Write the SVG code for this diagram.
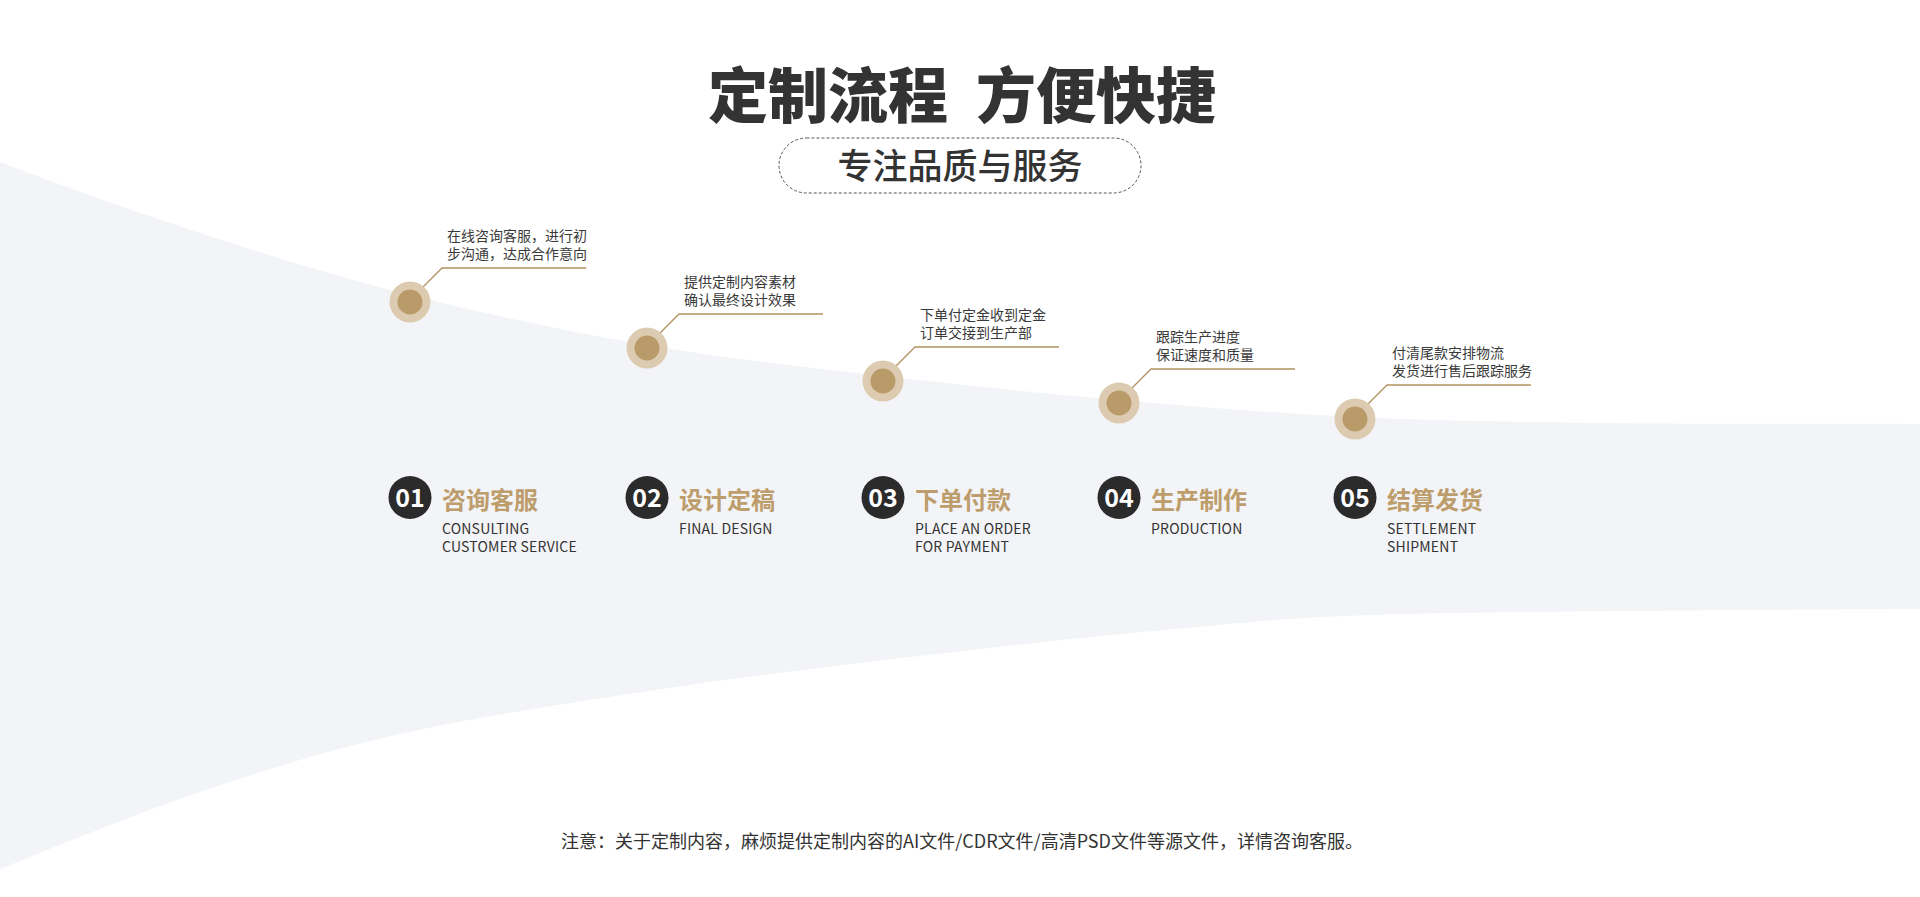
<svg xmlns="http://www.w3.org/2000/svg" width="1920" height="897" viewBox="0 0 1920 897">
<style>
text{font-family:"Noto Sans CJK SC","Noto Sans",sans-serif;}
.title{font-size:60px;font-weight:900;fill:#333;}
.sub{font-size:35px;font-weight:500;fill:#333;}
.desc{font-size:14px;fill:#3a3a3a;}
.halo{fill:#dccbb0;}
.dot{fill:#b99a69;}
.badge{fill:#2b2b2b;}
.num{font-size:25px;font-weight:700;fill:#fff;text-anchor:middle;}
.name{font-size:24px;font-weight:700;fill:#bd9d6b;}
.en{font-size:14px;fill:#333;letter-spacing:0.2px;}
.lead{fill:none;stroke:#b39261;stroke-width:1.3;}
.note{font-size:18px;fill:#333;text-anchor:middle;}
</style>
<rect width="1920" height="897" fill="#ffffff"/>
<path id="band" fill="#f3f4f7" d="M0,162 C66.7,187.3 131.7,210.8 200,233 C268.3,255.2 335.5,276.3 410,295 C484.5,313.7 568.2,331.5 647,345 C725.8,358.5 804.3,366.8 883,376 C961.7,385.2 1040.3,393.2 1119,400 C1197.7,406.8 1274.8,413.2 1355,417 C1435.2,420.8 1505.8,421.8 1600,423 C1694.2,424.2 1813.3,423.7 1920,424 L1920,609 C1746.7,609.7 1525.8,611.2 1400,614 C1274.2,617.8 1246.7,622.8 1165,630 C1083.3,637.2 995,647 910,657 C825,667 740,677.2 655,690 C570,702.8 475.8,717 400,734 C324.2,751 266.7,769.5 200,792 C133.3,814.5 66.7,842.3 0,869 Z"/>
<g id="header">
<text class="title" x="708" y="118">定制流程</text>
<text class="title" x="976" y="118">方便快捷</text>
<rect x="779" y="138" width="362" height="55" rx="27.5" fill="none" stroke="#555" stroke-width="1" stroke-dasharray="3 2"/>
<text class="sub" x="960" y="179" text-anchor="middle">专注品质与服务</text>
</g>
<g id="connectors">
<polyline class="lead" points="418,292 442,268 586,268"/>
<polyline class="lead" points="655,338 679,314 823,314"/>
<polyline class="lead" points="891,371 915,347 1059,347"/>
<polyline class="lead" points="1127,393 1151,369 1295,369"/>
<polyline class="lead" points="1363,409 1387,385 1531,385"/>
</g>
<g id="step1">
<circle class="halo" cx="410" cy="302" r="20.5"/><circle class="dot" cx="410" cy="302" r="12.5"/>
<text class="desc" x="447" y="241">在线咨询客服，进行初</text>
<text class="desc" x="447" y="258.5">步沟通，达成合作意向</text>
<circle class="badge" cx="410" cy="497.5" r="21.5"/>
<text class="num" x="410" y="506.5">01</text>
<text class="name" x="442" y="509">咨询客服</text>
<text class="en" x="442" y="534">CONSULTING</text>
<text class="en" x="442" y="552">CUSTOMER SERVICE</text>
</g>
<g id="step2">
<circle class="halo" cx="647" cy="348" r="20.5"/><circle class="dot" cx="647" cy="348" r="12.5"/>
<text class="desc" x="684" y="287">提供定制内容素材</text>
<text class="desc" x="684" y="304.5">确认最终设计效果</text>
<circle class="badge" cx="647" cy="497.5" r="21.5"/>
<text class="num" x="647" y="506.5">02</text>
<text class="name" x="679" y="509">设计定稿</text>
<text class="en" x="679" y="534">FINAL DESIGN</text>
</g>
<g id="step3">
<circle class="halo" cx="883" cy="381" r="20.5"/><circle class="dot" cx="883" cy="381" r="12.5"/>
<text class="desc" x="920" y="320">下单付定金收到定金</text>
<text class="desc" x="920" y="337.5">订单交接到生产部</text>
<circle class="badge" cx="883" cy="497.5" r="21.5"/>
<text class="num" x="883" y="506.5">03</text>
<text class="name" x="915" y="509">下单付款</text>
<text class="en" x="915" y="534">PLACE AN ORDER</text>
<text class="en" x="915" y="552">FOR PAYMENT</text>
</g>
<g id="step4">
<circle class="halo" cx="1119" cy="403" r="20.5"/><circle class="dot" cx="1119" cy="403" r="12.5"/>
<text class="desc" x="1156" y="342">跟踪生产进度</text>
<text class="desc" x="1156" y="359.5">保证速度和质量</text>
<circle class="badge" cx="1119" cy="497.5" r="21.5"/>
<text class="num" x="1119" y="506.5">04</text>
<text class="name" x="1151" y="509">生产制作</text>
<text class="en" x="1151" y="534">PRODUCTION</text>
</g>
<g id="step5">
<circle class="halo" cx="1355" cy="419" r="20.5"/><circle class="dot" cx="1355" cy="419" r="12.5"/>
<text class="desc" x="1392" y="358">付清尾款安排物流</text>
<text class="desc" x="1392" y="375.5">发货进行售后跟踪服务</text>
<circle class="badge" cx="1355" cy="497.5" r="21.5"/>
<text class="num" x="1355" y="506.5">05</text>
<text class="name" x="1387" y="509">结算发货</text>
<text class="en" x="1387" y="534">SETTLEMENT</text>
<text class="en" x="1387" y="552">SHIPMENT</text>
</g>
<g id="footnote">
<text class="note" x="962" y="848">注意：关于定制内容，麻烦提供定制内容的AI文件/CDR文件/高清PSD文件等源文件，详情咨询客服。</text>
</g>
</svg>
